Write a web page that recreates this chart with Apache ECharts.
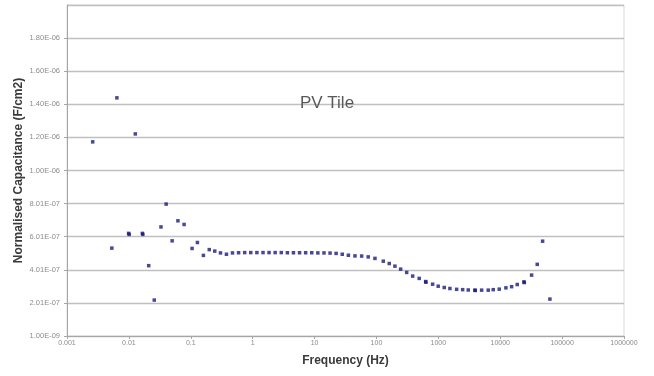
<!DOCTYPE html>
<html>
<head>
<meta charset="utf-8">
<title>PV Tile</title>
<script src="https://cdn.jsdelivr.net/npm/echarts@6/dist/echarts.min.js"></script>
<style>
  html, body { margin: 0; padding: 0; background: #fff; }
  #chart { width: 654px; height: 376px; }
</style>
</head>
<body>
<div id="chart"></div>
<script>
// Measured frequency (Hz)
const frequency = [
  0.0026, 0.0053, 0.0064, 0.0099, 0.0101, 0.0127, 0.0165, 0.0168, 0.0209, 0.0257,
  0.033, 0.040, 0.050, 0.062, 0.078, 0.105, 0.128, 0.160, 0.199, 0.244,
  0.302, 0.377, 0.472, 0.592, 0.743, 0.931, 1.17, 1.47, 1.84, 2.31,
  2.90, 3.64, 4.56, 5.72, 7.18, 9.01, 11.3, 14.2, 17.8, 22.3,
  28.0, 35.2, 45.0, 57.7, 73.6, 94.6, 129, 161, 199, 246,
  308, 385, 491, 624, 630, 809, 995, 1245, 1538, 1977,
  2472, 3041, 3899, 3950, 5012, 6397, 7709, 9638, 12360, 15280,
  18830, 24150, 24500, 32140, 39630, 48420, 63530
];

// Normalised capacitance (F/cm2)
const capacitance = [
  11.74e-7, 5.32e-7, 14.40e-7, 6.21e-7, 6.15e-7, 12.22e-7, 6.21e-7, 6.15e-7, 4.26e-7, 2.18e-7,
  6.60e-7, 7.98e-7, 5.76e-7, 6.97e-7, 6.75e-7, 5.30e-7, 5.66e-7, 4.88e-7, 5.23e-7, 5.14e-7,
  5.03e-7, 4.95e-7, 5.03e-7, 5.04e-7, 5.05e-7, 5.05e-7, 5.05e-7, 5.05e-7, 5.05e-7, 5.05e-7,
  5.05e-7, 5.04e-7, 5.04e-7, 5.04e-7, 5.04e-7, 5.04e-7, 5.03e-7, 5.03e-7, 5.02e-7, 5.00e-7,
  4.95e-7, 4.89e-7, 4.85e-7, 4.84e-7, 4.79e-7, 4.70e-7, 4.53e-7, 4.39e-7, 4.23e-7, 4.05e-7,
  3.85e-7, 3.63e-7, 3.49e-7, 3.30e-7, 3.26e-7, 3.14e-7, 3.02e-7, 2.94e-7, 2.88e-7, 2.83e-7,
  2.81e-7, 2.79e-7, 2.78e-7, 2.76e-7, 2.78e-7, 2.78e-7, 2.81e-7, 2.84e-7, 2.92e-7, 2.99e-7,
  3.12e-7, 3.28e-7, 3.24e-7, 3.69e-7, 4.34e-7, 5.74e-7, 2.24e-7
];

// Axis settings
const xRange = [0.001, 1000000];
const yMin = 1e-9;
const yStep = 2e-7;
const yMax = 2.001e-6;

const chartTitle = 'PV Tile';
const xName = 'Frequency (Hz)';
const yName = 'Normalised Capacitance (F/cm2)';

const FONT = 'Liberation Sans, Arial, sans-serif';

function sciLabel(v) {
  const parts = v.toExponential(2).split('e');
  const exp = parseInt(parts[1], 10);
  return parts[0] + 'E' + (exp < 0 ? '-' : '+') + String(Math.abs(exp)).padStart(2, '0');
}

function plainLabel(v) {
  return String(Number(v.toPrecision(6)));
}

const points = frequency.map((f, i) => [f, capacitance[i]]);

const chart = echarts.init(document.getElementById('chart'), null, { renderer: 'canvas' });
chart.setOption({
  animation: false,
  backgroundColor: '#ffffff',
  title: {
    text: chartTitle,
    left: 'center',
    top: 90,
    textStyle: { fontFamily: FONT, fontSize: 17, fontWeight: 'normal', color: '#595959' }
  },
  grid: {
    left: 67, right: 30, top: 5, bottom: 40,
    show: true, borderColor: '#d9d9d9', borderWidth: 1
  },
  xAxis: {
    type: 'log',
    logBase: 10,
    min: xRange[0],
    max: xRange[1],
    splitNumber: 9,
    name: xName,
    nameLocation: 'middle',
    nameGap: 19,
    nameTextStyle: { fontFamily: FONT, fontSize: 12, fontWeight: 'bold', color: '#3a3a3a' },
    axisLine: { show: true, lineStyle: { color: '#a6a6a6', width: 1 } },
    axisTick: { show: true, inside: false, length: 3, lineStyle: { color: '#a6a6a6' } },
    axisLabel: {
      formatter: plainLabel,
      fontFamily: FONT,
      fontSize: 7,
      color: '#8c8c8c',
      margin: 4
    },
    splitLine: { show: false },
    minorTick: { show: false }
  },
  yAxis: {
    type: 'value',
    min: yMin,
    max: yMax,
    interval: yStep,
    name: yName,
    nameLocation: 'middle',
    nameGap: 42,
    nameMoveOverlap: false,
    nameTextStyle: { fontFamily: FONT, fontSize: 12, fontWeight: 'bold', color: '#3a3a3a' },
    axisLine: { show: true, lineStyle: { color: '#a6a6a6', width: 1 } },
    axisTick: { show: true, inside: false, length: 3, lineStyle: { color: '#a6a6a6' } },
    axisLabel: {
      formatter: sciLabel,
      showMaxLabel: false,
      fontFamily: FONT,
      fontSize: 7.5,
      color: '#8c8c8c',
      margin: 7
    },
    splitLine: { show: true, lineStyle: { color: '#c0c0c0', width: 1.3 } }
  },
  series: [{
    type: 'scatter',
    data: points,
    symbol: 'rect',
    symbolSize: 3.5,
    itemStyle: { color: '#1a1a7a' }
  }]
});
</script>
</body>
</html>
